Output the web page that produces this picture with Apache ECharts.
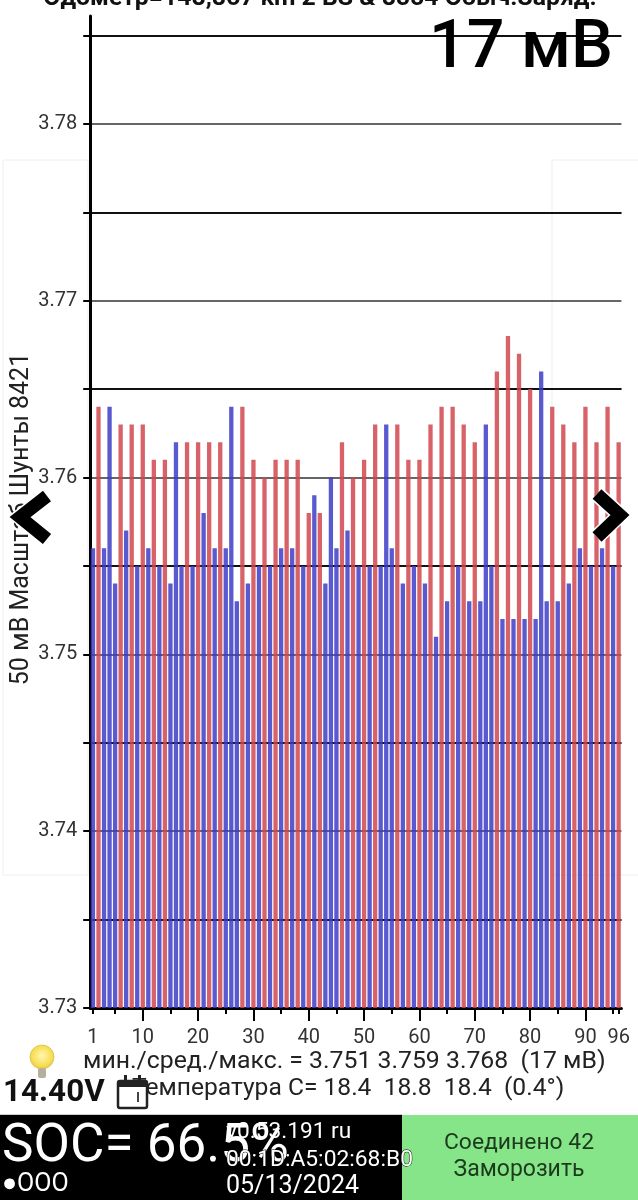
<!DOCTYPE html>
<html><head><meta charset="utf-8">
<style>html,body{margin:0;padding:0;background:#fff}#c{width:638px;height:1200px}</style>
<script src="https://cdn.jsdelivr.net/npm/echarts@6/dist/echarts.min.js"></script>
</head><body><div id="c"></div>
<script>
const cellValues = [
3.756,3.764,3.756,3.764,3.754,3.763,3.757,3.763,3.755,3.763,3.756,3.761,
3.755,3.761,3.754,3.762,3.755,3.762,3.755,3.762,3.758,3.762,3.756,3.762,
3.756,3.764,3.753,3.764,3.754,3.761,3.755,3.760,3.755,3.761,3.756,3.761,
3.756,3.761,3.755,3.758,3.759,3.758,3.754,3.760,3.756,3.762,3.757,3.760,
3.755,3.761,3.755,3.763,3.755,3.763,3.756,3.763,3.754,3.761,3.755,3.761,
3.754,3.763,3.751,3.764,3.753,3.764,3.755,3.763,3.753,3.762,3.753,3.763,
3.755,3.766,3.752,3.768,3.752,3.767,3.752,3.765,3.752,3.766,3.753,3.764,
3.753,3.763,3.754,3.762,3.756,3.764,3.755,3.762,3.756,3.764,3.755,3.762];
const evenCellsInBlue = [4,16,26,44,54,72,82];
const cells = cellValues.map((_, i) => String(i + 1));
const blueValues = cellValues.map((v, i) => ((i + 1) % 2 === 1 || evenCellsInBlue.includes(i + 1)) ? v : null);
const redValues = cellValues.map((v, i) => blueValues[i] === null ? v : null);
const labelledCells = [1,10,20,30,40,50,60,70,80,90,96];
const shortTickCells = [1,5,15,25,35,45,55,65,75,85,95,96];
const longTickCells = [10,20,30,40,50,60,70,80,90];
const yTickValues = [3.73,3.735,3.74,3.745,3.75,3.755,3.76,3.765,3.77,3.775,3.78,3.785];
const yLabelValues = [3.73,3.74,3.75,3.76,3.77,3.78];
const FONT = 'Roboto';

const chart = echarts.init(document.getElementById('c'), null, {renderer:'canvas', width:638, height:1200});
const txt = (x, y, text, size, extra) => ({type:'text', x, y, z:20, style:Object.assign({text, fontFamily:FONT, fontSize:size, fill:'#222', textVerticalAlign:'middle'}, extra||{})});

chart.setOption({
  animation:false,
  backgroundColor:'#fff',
  grid:{left:90.2, right:16.6, top:16, bottom:192, containLabel:false, outerBoundsMode:'none'},
  xAxis:[{
    type:'category', data:cells, position:'bottom', boundaryGap:true,
    axisLine:{lineStyle:{color:'#000', width:3}},
    axisTick:{show:true, alignWithLabel:true, length:6, lineStyle:{color:'#000', width:2},
      interval:(i) => shortTickCells.includes(i + 1)},
    axisLabel:{show:true, interval:(i) => labelledCells.includes(i + 1),
      margin:20, fontFamily:FONT, fontSize:20, color:'#333', hideOverlap:false,
      formatter:(v) => v},
    splitLine:{show:false}
  },{
    type:'category', data:cells, position:'bottom', boundaryGap:true,
    axisLine:{show:false},
    axisTick:{show:true, alignWithLabel:true, length:13, lineStyle:{color:'#000', width:2},
      interval:(i) => longTickCells.includes(i + 1)},
    axisLabel:{show:false}, splitLine:{show:false}
  }],
  yAxis:{
    type:'value', min:3.73, max:3.7861, interval:0.01,
    name:'50 мВ Масштаб Шунты 8421', nameLocation:'middle', nameGap:56, nameMoveOverlap:false,
    nameTextStyle:{fontFamily:FONT, fontSize:25, color:'#222', padding:[0,14,0,0]},
    axisLine:{show:true, lineStyle:{color:'#000', width:3}},
    axisTick:{show:true, length:7, lineStyle:{color:'#000', width:2}, customValues:yTickValues},
    minorTick:{show:false, splitNumber:2},
    axisLabel:{fontFamily:FONT, fontSize:20, color:'#333', margin:13, customValues:yLabelValues,
      padding:[5,0,0,0], formatter:(v) => v.toFixed(2)},
    splitLine:{show:true, showMaxLine:false, lineStyle:{color:'#333', width:1.5}},
    minorSplitLine:{show:true, lineStyle:{color:'#111', width:2}}
  },
  series:[
    {type:'bar', name:'blue', data:blueValues, barWidth:4.3, barGap:'-100%', itemStyle:{color:'rgba(60,60,200,0.85)'}},
    {type:'bar', name:'red', data:redValues, barWidth:4.3, barGap:'-100%', itemStyle:{color:'rgba(208,70,78,0.85)'}}
  ],
  graphic:[
    {type:'rect', z:-5, shape:{x:3,y:160,width:85,height:715}, style:{fill:'none', stroke:'#eeeeee', lineWidth:1}},
    {type:'rect', z:-5, shape:{x:552,y:160,width:90,height:715}, style:{fill:'none', stroke:'#eeeeee', lineWidth:1}},
    txt(320, -1, 'Одометр=148,867 km 2 BS & 8554 Обыч.Заряд.', 24.8, {textAlign:'center', fontWeight:'bold', fill:'#111'}),
    txt(429, 50, '17 мВ', 66.5, {fontWeight:500, fill:'#000'}),
    {type:'polyline', z:22, shape:{points:[[47,496],[20,517],[47,539]]}, style:{fill:'none', stroke:'#fff', lineWidth:16, lineJoin:'miter'}},
    {type:'polyline', z:23, shape:{points:[[47,496],[20,517],[47,539]]}, style:{fill:'none', stroke:'#000', lineWidth:13, lineJoin:'miter'}},
    {type:'polyline', z:22, shape:{points:[[597,494],[620,515],[597,537]]}, style:{fill:'none', stroke:'#fff', lineWidth:16, lineJoin:'miter'}},
    {type:'polyline', z:23, shape:{points:[[597,494],[620,515],[597,537]]}, style:{fill:'none', stroke:'#000', lineWidth:13, lineJoin:'miter'}},

    txt(83, 1062, 'мин./сред./макс. = 3.751 3.759 3.768  (17 мВ)', 24.8),
    txt(132, 1089, 'Температура С= 18.4  18.8  18.4  (0.4°)', 24.6),
    txt(3, 1093, '14.40V', 31.4, {fontWeight:'bold', fill:'#111'}),

    {type:'circle', z:21, shape:{cx:42,cy:1057,r:12}, style:{fill:{type:'radial',x:0.5,y:0.45,r:0.6,colorStops:[{offset:0,color:'#fff7b0'},{offset:0.7,color:'#f6dc50'},{offset:1,color:'#d8b840'}]}, stroke:'#e0c860', lineWidth:1}},
    {type:'rect', z:21, shape:{x:38,y:1068,width:8,height:10,r:2}, style:{fill:'#b5b09a'}},

    {type:'rect', z:21, shape:{x:118,y:1081,width:29,height:27,r:2}, style:{fill:'#fff', stroke:'#222', lineWidth:2.5}},
    {type:'rect', z:21, shape:{x:118,y:1081,width:29,height:6}, style:{fill:'#222'}},
    {type:'rect', z:22, shape:{x:124,y:1075,width:3,height:9}, style:{fill:'#222'}},
    {type:'rect', z:22, shape:{x:138,y:1075,width:3,height:9}, style:{fill:'#222'}},
    {type:'rect', z:22, shape:{x:137,y:1092,width:2,height:10}, style:{fill:'#444'}},

    {type:'rect', z:15, shape:{x:0,y:1115,width:402,height:85}, style:{fill:'#000'}},
    {type:'rect', z:15, shape:{x:402,y:1115,width:236,height:85}, style:{fill:'#86e588'}},
    {type:'rect', z:15, shape:{x:0,y:1114,width:402,height:1}, style:{fill:'#ccc'}},
    txt(2, 1148, 'SOC= 66.5%', 53, {fill:'#fff'}),
    txt(2, 1185, '●OOO', 25, {fill:'#fff'}),
    txt(226, 1132, 'v0.53.191 ru', 22.7, {fill:'#fff'}),
    txt(226, 1160, '00:1D:A5:02:68:B0', 22.8, {fill:'#fff', stroke:'#000', lineWidth:1}),
    txt(226, 1187, '05/13/2024', 25, {fill:'#fff'}),
    txt(519, 1143, 'Соединено 42', 22.9, {textAlign:'center', fill:'#1c3a1c'}),
    txt(519, 1170, 'Заморозить', 23, {textAlign:'center', fill:'#1c3a1c'})
  ]
});
</script></body></html>
